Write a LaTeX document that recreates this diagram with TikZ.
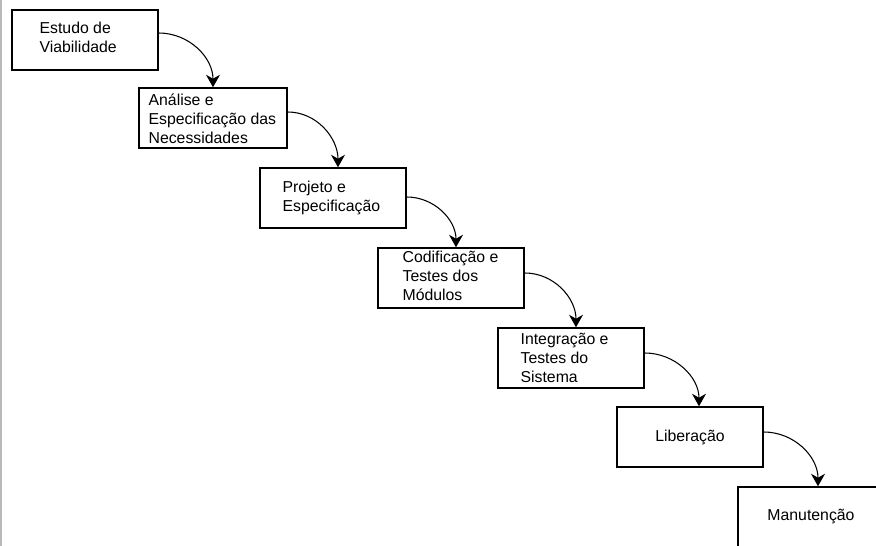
\documentclass[tikz,border=0pt]{standalone}
\usepackage{fontspec}
\setmainfont{Liberation Sans}
\usetikzlibrary{positioning,arrows.meta}

\begin{document}
\begin{tikzpicture}[
    x=0.02cm, y=-0.02cm,
    stage/.style={draw, rectangle, line width=0.85pt, minimum width=2.92cm, minimum height=1.2cm, inner sep=0pt},
    lbl/.style={anchor=base west, align=left, inner sep=0pt, font=\fontsize{9}{10.8}\selectfont},
    flow/.style={-{Stealth[length=0.25cm, width=0.28cm, inset=0.08cm]}, line width=0.6pt}
]
    \clip (0,0) rectangle (876,546);
    \fill [gray!55] (0,0) rectangle (2.5,546);

    % Boxes
    \node [stage] (estudo)  at (85,40)   {};
    \node [stage, minimum width=2.96cm] (analise) at (213,118) {};
    \node [stage] (projeto) at (333,198) {};
    \node [stage] (codif)   at (451,278) {};
    \node [stage] (integ)   at (571,358) {};
    \node [stage] (liber)   at (690,437) {};
    \node [stage] (manut)   at (811,517) {};

    % Texts (anchored at the baseline of the last line)
    \node [lbl] (t1) at ([shift={(28,43)}]estudo.north west) {Estudo de\\Viabilidade};
    \node [lbl] (t2) at ([shift={(10,56)}]analise.north west) {Análise e\\Especificação das\\Necessidades};
    \node [lbl] (t3) at ([shift={(23,44)}]projeto.north west) {Projeto e\\Especificação};
    \node [lbl] (t4) at ([shift={(25,53)}]codif.north west) {Codificação e\\Testes dos\\Módulos};
    \node [lbl] (t5) at ([shift={(23,55)}]integ.north west) {Integração e\\Testes do\\Sistema};
    \node [lbl, anchor=center] (t6) at (liber.center) {Liberação};
    \node [lbl, anchor=center] (t7) at (manut.center) {Manutenção};

    % Arrows
    \foreach \a/\b/\dy/\dx in {estudo/analise/7/0, analise/projeto/6/5, projeto/codif/1/5, codif/integ/5/5, integ/liber/5/9, liber/manut/5/7} {
        \draw [flow] ([yshift=\dy*0.02cm]\a.east) to[out=0, in=90] ([xshift=\dx*0.02cm]\b.north);
    }
\end{tikzpicture}
\end{document}
